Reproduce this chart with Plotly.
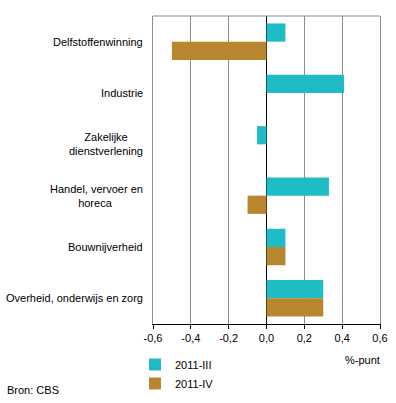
import plotly.graph_objects as go

categories = ["Delfstoffenwinning", "Industrie", "Zakelijke<br>dienstverlening",
              "Handel, vervoer en<br>horeca ", "Bouwnijverheid", "Overheid, onderwijs en zorg"]
series_names = ["2011-III", "2011-IV"]
values_iii = [0.10, 0.41, -0.05, 0.33, 0.10, 0.30]
values_iv = [-0.50, 0.0, 0.0, -0.10, 0.10, 0.30]
x_ticks = [-0.6, -0.4, -0.2, 0.0, 0.2, 0.4, 0.6]
x_tick_labels = ["-0,6", "-0,4", "-0,2", "0,0", "0,2", "0,4", "0,6"]

colors = ["#1FBCC6", "#B98630"]
FONT = "Liberation Sans, Arial, sans-serif"

W, H = 396, 403
L, R, T, B = 153, 16, 16, 79
PW, PH = W - L - R, H - T - B

def px_x(px):
    return (px - L) / PW

def px_y(py):
    return (H - B - py) / PH

fig = go.Figure()
for name, vals, col in zip(series_names, [values_iii, values_iv], colors):
    fig.add_trace(go.Bar(y=categories, x=vals, name=name, orientation="h",
                         marker=dict(color=col, line=dict(width=0))))

fig.update_layout(
    width=W, height=H,
    margin=dict(l=L, r=R, t=T, b=B, autoexpand=False),
    paper_bgcolor="white", plot_bgcolor="white",
    barmode="group", bargap=0.29, bargroupgap=0,
    separators=",.",
    font=dict(family=FONT, size=11, color="black"),
    showlegend=True,
    legend=dict(xref="paper", yref="paper", x=px_x(135), y=px_y(350),
                xanchor="left", yanchor="top", font=dict(size=11),
                tracegroupgap=0, bgcolor="rgba(0,0,0,0)"),
    xaxis=dict(range=[-0.6, 0.6], tickvals=x_ticks, ticktext=x_tick_labels,
               showgrid=True, gridcolor="#8c8c8c", gridwidth=1,
               zeroline=True, zerolinecolor="black", zerolinewidth=1.2,
               showline=True, linecolor="black", linewidth=1,
               ticks="outside", ticklen=4, tickcolor="black", tickangle=0,
               automargin=False, tickfont=dict(size=11), fixedrange=True),
    yaxis=dict(autorange="reversed", showticklabels=False, showgrid=False,
               showline=True, linecolor="#8c8c8c", linewidth=1, mirror=True,
               ticks="", automargin=False, fixedrange=True),
)

# top border
fig.add_shape(type="line", xref="paper", yref="paper", x0=0, x1=1, y0=1, y1=1,
              line=dict(color="#8c8c8c", width=1))

# category labels (centered multi-line)
for c in categories:
    fig.add_annotation(text=c, xref="paper", yref="y", x=px_x(145), y=c,
                       xanchor="right", yanchor="middle", align="center",
                       showarrow=False, font=dict(size=11))

fig.add_annotation(text="%-punt", xref="paper", yref="paper", x=px_x(382), y=px_y(360),
                   xanchor="right", yanchor="middle", showarrow=False,
                   font=dict(size=11))
fig.add_annotation(text="Bron: CBS", xref="paper", yref="paper",
                   x=px_x(5), y=px_y(390), xanchor="left", yanchor="middle",
                   showarrow=False, font=dict(size=11))

fig.write_html("out.html", config={"displayModeBar": False},
               post_script="document.body.style.margin='0';document.body.style.overflow='hidden';")
